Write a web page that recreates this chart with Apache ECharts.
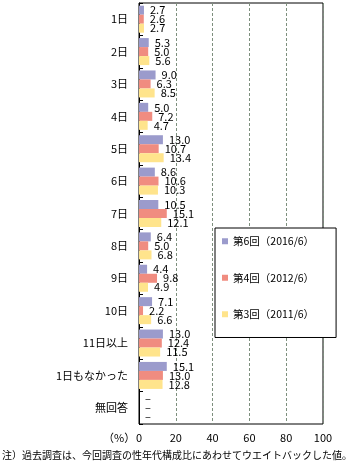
<!DOCTYPE html>
<html><head><meta charset="utf-8">
<script src="https://cdn.jsdelivr.net/npm/echarts@6/dist/echarts.min.js"></script>
<style>html,body{margin:0;padding:0;background:#fff}#c{width:350px;height:466px}</style>
</head><body><div id="c"></div>
<script>
const categories = ['1日','2日','3日','4日','5日','6日','7日','8日','9日','10日','11日以上','1日もなかった','無回答'];
const seriesNames = ['第6回（2016/6）','第4回（2012/6）','第3回（2011/6）'];
const wave6 = [2.7, 5.3, 9.0, 5.0, 13.0, 8.6, 10.5, 6.4, 4.4, 7.1, 13.0, 15.1, null];
const wave4 = [2.6, 5.0, 6.3, 7.2, 10.7, 10.6, 15.1, 5.0, 9.8, 2.2, 12.4, 13.0, null];
const wave3 = [2.7, 5.6, 8.5, 4.7, 13.4, 10.3, 12.1, 6.8, 4.9, 6.6, 11.5, 12.8, null];
const xTicks = [0, 20, 40, 60, 80, 100];
const sampleNote = '（n=11262）';
const unitLabel = '（%）';
const footnote = '注）過去調査は、今回調査の性年代構成比にあわせてウエイトバックした値。';
const colors = ['#9b9bcc', '#f08c80', '#ffe48c'];

const FONT = '"Noto Sans CJK JP", sans-serif';
const chart = echarts.init(document.getElementById('c'), null, {renderer: 'canvas'});
const allData = [wave6, wave4, wave3];
chart.setOption({
  animation: false,
  textStyle: {fontFamily: FONT, color: '#000'},
  grid: {left: 139, right: 27, top: 3, bottom: 42, show: true, borderColor: '#000', borderWidth: 1, backgroundColor: 'transparent'},
  xAxis: {
    type: 'value', min: xTicks[0], max: xTicks[xTicks.length - 1], interval: 20,
    axisLine: {show: false}, axisTick: {show: false},
    axisLabel: {color: '#000', fontSize: 11, fontFamily: FONT, margin: 8},
    splitLine: {show: true, lineStyle: {color: '#7d8f7d', type: [3, 2], width: 1}}
  },
  yAxis: {
    type: 'category', data: categories, inverse: true,
    axisLine: {show: true, lineStyle: {color: '#000'}},
    axisTick: {show: true, inside: true, length: 4, lineStyle: {color: '#000'}},
    axisLabel: {color: '#000', fontSize: 11, fontFamily: FONT, margin: 11}
  },
  legend: {
    orient: 'vertical', left: 215, top: 228,
    padding: [8, 22, 18, 7], itemGap: 26,
    itemWidth: 6, itemHeight: 6, icon: 'rect',
    borderColor: '#000', borderWidth: 1, backgroundColor: '#fff',
    textStyle: {fontSize: 10.5, color: '#000', fontFamily: FONT},
    data: seriesNames
  },
  series: seriesNames.map((n, i) => ({
    name: n, type: 'bar', barWidth: 9, barGap: '0%',
    itemStyle: {color: colors[i]},
    label: {
      show: true, position: 'right', distance: 6, fontSize: 11, color: '#000', fontFamily: FONT,
      formatter: p => allData[i][p.dataIndex] == null ? '–' : allData[i][p.dataIndex].toFixed(1)
    },
    data: allData[i].map(v => v == null ? 0 : v)
  })),
  graphic: [
    {type: 'text', left: 229, top: 250, style: {text: sampleNote, font: '10.5px ' + FONT, fill: '#000'}},
    {type: 'text', left: 103, top: 432, style: {text: unitLabel, font: '11px ' + FONT, fill: '#000'}},
    {type: 'text', left: 2, top: 450, style: {text: footnote, font: '10px ' + FONT, fill: '#000'}}
  ]
});
</script></body></html>
